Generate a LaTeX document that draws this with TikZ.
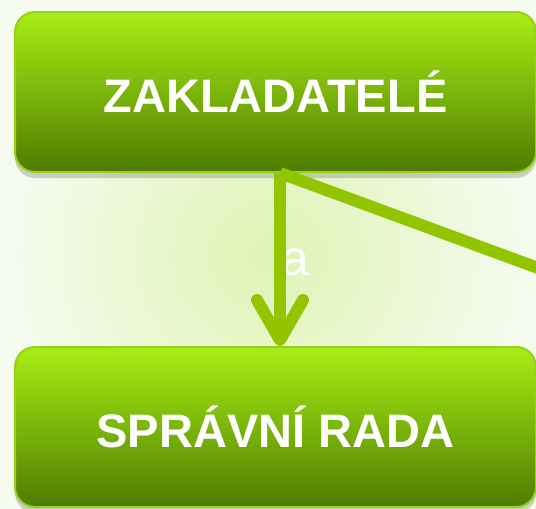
\documentclass[tikz,border=0pt]{standalone}
\usepackage{fontspec}
\setmainfont{Liberation Sans}
\usepackage{tikz}
\usetikzlibrary{positioning, arrows.meta, shadows}

\definecolor{boxtop}{HTML}{A8EE14}
\definecolor{boxmid}{HTML}{8BC800}
\definecolor{boxbot}{HTML}{4E7C00}
\definecolor{boxrim}{HTML}{97D11C}
\definecolor{linegreen}{HTML}{92C400}
\definecolor{glowin}{HTML}{DEF4B4}
\definecolor{glowout}{HTML}{F6FBF0}

\begin{document}
\begin{tikzpicture}[x=0.5pt, y=-0.5pt,
  orgbox/.style={draw=boxrim, line width=1pt, rounded corners=10pt,
    top color=boxtop, middle color=boxmid, bottom color=boxbot,
    minimum width=260.5pt, minimum height=80pt, text=white,
    font=\fontsize{23.5}{28}\selectfont\bfseries,
    drop shadow={shadow xshift=0pt, shadow yshift=-3pt, opacity=.25, fill=black!70}},
  link/.style={linegreen, line width=6pt}]
 \clip (0,0) rectangle (536,509);
 \shade[inner color=glowin, outer color=glowout] (0,0) rectangle (536,509);

 \node[orgbox] (zakladatele) at (275.5,92) {ZAKLADATELÉ};
 \node[orgbox] (sprava) at (275.5,427) {SPRÁVNÍ RADA};

 \node[text=white, font=\fontsize{25}{28}\selectfont] (lbl) at (295,262) {a};

 \coordinate (mimo) at (720,335);
 \draw[link, -{Straight Barb[length=20pt, width=23pt, round]}]
   ([xshift=2.25pt]zakladatele.south) -- ([xshift=2.25pt]sprava.north);
 \draw[link] ([xshift=2.25pt]zakladatele.south) -- (mimo);
\end{tikzpicture}
\end{document}
